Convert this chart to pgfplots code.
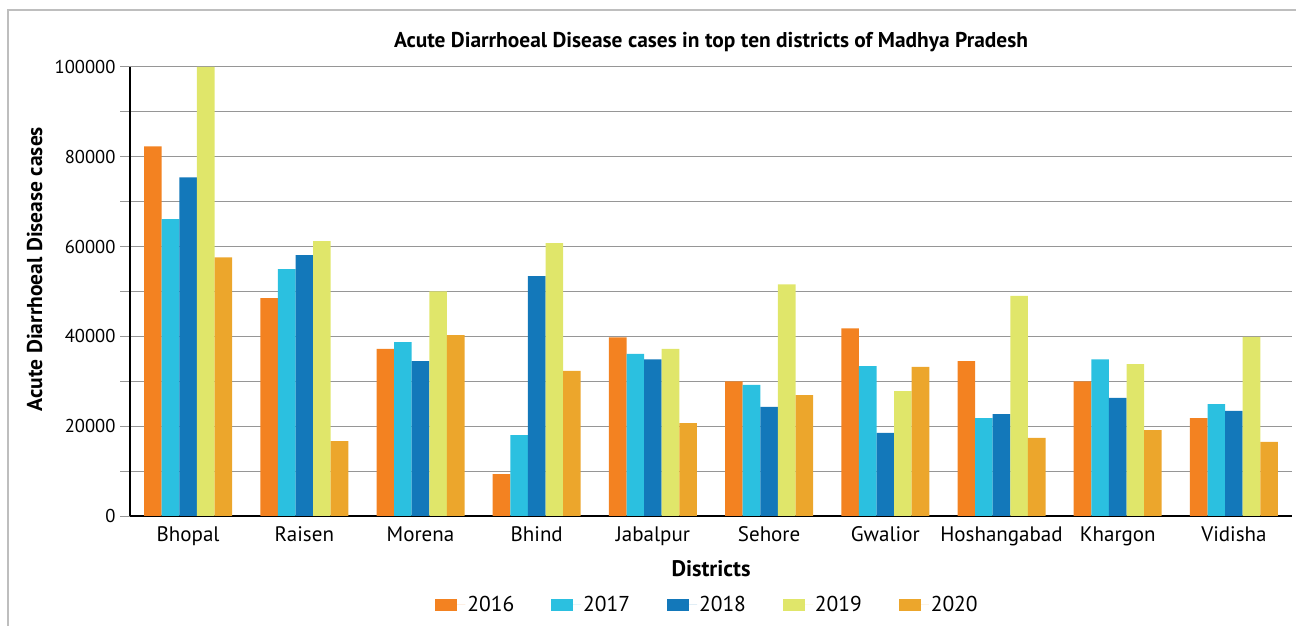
\documentclass[border=0pt]{standalone}
\usepackage{pgfplots}
\pgfplotsset{compat=1.18}
\usepackage{fontspec}
\setmainfont{PT Sans}
\definecolor{cA}{HTML}{F38221}
\definecolor{cB}{HTML}{2BC0E0}
\definecolor{cC}{HTML}{1378BA}
\definecolor{cD}{HTML}{E0E66A}
\definecolor{cE}{HTML}{ECA62C}
\definecolor{gridc}{HTML}{969696}
\begin{document}
\begin{tikzpicture}
\path[use as bounding box] (0,0) rectangle (1296bp,626bp);
\draw[color={rgb,255:red,190;green,190;blue,190}, line width=2bp] (8bp,0) -- (8bp,616bp) -- (1296bp,616bp);
\begin{axis}[
  at={(130bp,110bp)}, anchor=south west,
  scale only axis, width=1162bp, height=449bp,
  xmin=-0.5, xmax=9.5, ymin=0, ymax=100000,
  ybar=0pt, bar width=17.6bp,
  axis x line*=bottom, axis y line*=left,
  axis line style={black, line width=1.2bp},
  xtick={0,...,9},
  xticklabels={Bhopal,Raisen,Morena,Bhind,Jabalpur,Sehore,Gwalior,Hoshangabad,Khargon,Vidisha},
  x tick style={draw=none},
  extra x ticks={-0.5,0.5,...,9.5},
  extra x tick labels={},
  extra x tick style={grid=none, tick align=outside, major tick length=6bp, tick style={black, line width=1.2bp}},
  ytick={0,10000,...,100000},
  yticklabels={0,,20000,,40000,,60000,,80000,,100000},
  y tick style={gridc, line width=1bp},
  tick align=outside, major tick length=10bp,
  ymajorgrids, major grid style={gridc, line width=1bp},
  scaled y ticks=false,
  /pgf/number format/assume math mode=true,
  yticklabel style={font=\fontsize{18.6bp}{22bp}\selectfont, xshift=-1bp},
  xticklabel style={font=\fontsize{21bp}{24bp}\selectfont, yshift=3bp},
  xlabel={\textbf{Districts}},
  xlabel style={font=\fontsize{22.5bp}{26bp}\selectfont, at={(axis description cs:0.5,-0.118)}, anchor=center},
  ylabel={\textbf{Acute Diarrhoeal Disease cases}},
  ylabel style={font=\fontsize{21.5bp}{24bp}\selectfont, at={(axis description cs:-0.082,0.55)}, anchor=center, rotate=0},
  title={\textbf{Acute Diarrhoeal Disease cases in top ten districts of Madhya Pradesh}},
  title style={font=\fontsize{21.4bp}{24bp}\selectfont, at={(axis description cs:0.5,1.043)}, anchor=center},
  legend columns=5,
  legend style={draw=none, fill=none, at={(axis description cs:0.497,-0.198)}, anchor=center,
    font=\fontsize{21.5bp}{24bp}\selectfont, /tikz/every even column/.append style={column sep=35bp}},
  legend image code/.code={\fill[#1] (0bp,-6bp) rectangle (22bp,6bp); \path (0bp,0bp) -- (30bp,0bp);},
]
\addplot[fill=cA, draw=none] coordinates {(0,82300) (1,48500) (2,37200) (3,9300) (4,39800) (5,30000) (6,41800) (7,34500) (8,30000) (9,21800)};
\addplot[fill=cB, draw=none] coordinates {(0,66100) (1,55000) (2,38700) (3,18000) (4,36100) (5,29200) (6,33400) (7,21800) (8,34900) (9,24900)};
\addplot[fill=cC, draw=none] coordinates {(0,75400) (1,58100) (2,34500) (3,53400) (4,34900) (5,24300) (6,18500) (7,22700) (8,26300) (9,23400)};
\addplot[fill=cD, draw=none] coordinates {(0,100000) (1,61200) (2,50000) (3,60800) (4,37200) (5,51600) (6,27800) (7,49000) (8,33800) (9,39900)};
\addplot[fill=cE, draw=none] coordinates {(0,57600) (1,16700) (2,40300) (3,32300) (4,20700) (5,26900) (6,33200) (7,17400) (8,19100) (9,16500)};
\legend{2016,2017,2018,2019,2020}
\end{axis}
\end{tikzpicture}
\end{document}
